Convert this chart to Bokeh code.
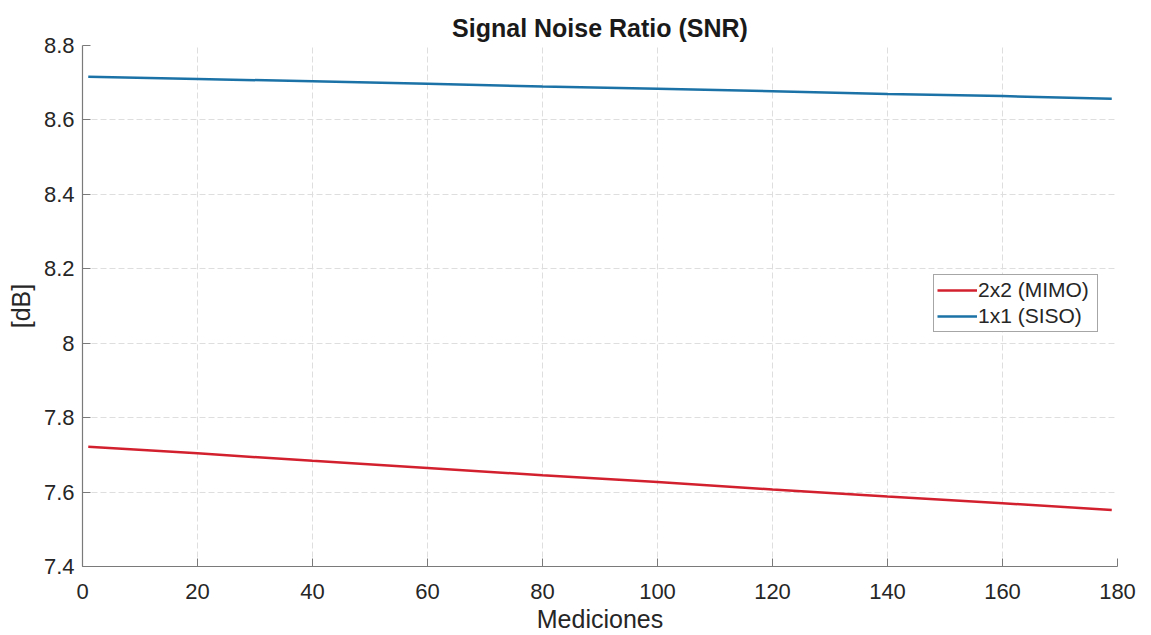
from bokeh.plotting import figure
from bokeh.models import Range1d, FixedTicker, Legend, LegendItem
from bokeh.embed import file_html
from bokeh.resources import INLINE

# Measurement index and SNR values (dB)
mediciones = [1, 20, 40, 60, 80, 100, 120, 140, 160, 179]
snr_mimo = [7.722, 7.704, 7.684, 7.665, 7.645, 7.627, 7.607, 7.588, 7.570, 7.552]
snr_siso = [8.716, 8.710, 8.704, 8.697, 8.690, 8.684, 8.677, 8.670, 8.664, 8.657]

x_ticks = [0, 20, 40, 60, 80, 100, 120, 140, 160, 180]
y_ticks = [7.4, 7.6, 7.8, 8.0, 8.2, 8.4, 8.6, 8.8]
y_tick_labels = {7.4: "7.4", 7.6: "7.6", 7.8: "7.8", 8.0: "8", 8.2: "8.2",
                 8.4: "8.4", 8.6: "8.6", 8.8: "8.8"}

FONT = "Liberation Sans"
TEXT = "#262626"
AXIS = "#7a7a7a"

p = figure(width=1151, height=635, output_backend="svg", toolbar_location=None,
           x_range=Range1d(0, 180), y_range=Range1d(7.4, 8.8),
           title="Signal Noise Ratio (SNR)",
           min_border_left=82, min_border_right=34, min_border_top=45,
           min_border_bottom=69)
p.outline_line_color = None
p.background_fill_color = "white"
p.border_fill_color = "white"

p.title.align = "center"
p.title.text_font = FONT
p.title.text_font_size = "25px"
p.title.text_font_style = "bold"
p.title.text_color = "#1a1a1a"
p.title.standoff = 8

red = p.line(mediciones, snr_mimo, line_color="#d3202e", line_width=2.5)
blue = p.line(mediciones, snr_siso, line_color="#1b72a6", line_width=2.5)

p.xaxis.ticker = FixedTicker(ticks=x_ticks)
p.yaxis.ticker = FixedTicker(ticks=y_ticks)
p.yaxis.major_label_overrides = y_tick_labels

for ax in (p.xaxis[0], p.yaxis[0]):
    ax.axis_line_color = AXIS
    ax.axis_line_width = 1.2
    ax.major_tick_line_color = AXIS
    ax.major_tick_in = 8
    ax.major_tick_out = 0
    ax.minor_tick_line_color = None
    ax.major_label_text_font = FONT
    ax.major_label_text_font_size = "22px"
    ax.major_label_text_color = TEXT
    ax.axis_label_text_font = FONT
    ax.axis_label_text_font_size = "25px"
    ax.axis_label_text_font_style = "normal"
    ax.axis_label_text_color = TEXT

p.xaxis.axis_label = "Mediciones"
p.yaxis.axis_label = "[dB]"
p.xaxis.major_label_standoff = 17
p.yaxis.major_label_standoff = 8
p.xaxis.axis_label_standoff = 3
p.yaxis.axis_label_standoff = 6

for g in (p.xgrid[0], p.ygrid[0]):
    g.grid_line_color = "#dedede"
    g.grid_line_dash = "6 3"
    g.grid_line_width = 1

legend = Legend(items=[LegendItem(label="2x2 (MIMO)", renderers=[red]),
                       LegendItem(label="1x1 (SISO)", renderers=[blue])],
                location=(851, 234))
legend.label_text_font = FONT
legend.label_text_font_size = "21px"
legend.label_text_color = TEXT
legend.glyph_width = 40
legend.glyph_height = 24
legend.label_height = 24
legend.label_width = 116
legend.label_standoff = 1
legend.spacing = 2
legend.padding = 3
legend.margin = 0
legend.border_line_color = "#4d4d4d"
legend.border_line_width = 1
legend.background_fill_color = "white"
legend.background_fill_alpha = 1.0
p.add_layout(legend, "center")

open("out.html", "w").write(file_html(p, INLINE))
